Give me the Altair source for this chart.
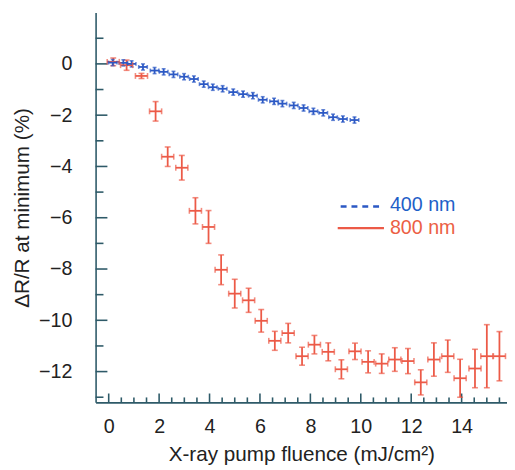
import altair as alt
import pandas as pd

# ---- data ----
blue_x = [0.16, 0.58, 0.91, 1.36, 1.82, 2.18, 2.57, 2.99, 3.38, 3.77, 4.13, 4.52, 4.94,
          5.33, 5.72, 6.11, 6.56, 6.89, 7.34, 7.73, 8.12, 8.51, 8.90, 9.29, 9.75]
blue_y = [0.05, 0.04, 0.0, -0.12, -0.26, -0.31, -0.41, -0.50, -0.59, -0.79, -0.91, -0.97,
          -1.10, -1.18, -1.24, -1.40, -1.46, -1.55, -1.62, -1.72, -1.85, -1.91, -2.08,
          -2.15, -2.19]
blue_xerr = [0.17] * len(blue_x)
blue_yerr = [0.12] * len(blue_x)

red_x = [0.18, 0.71, 1.30, 1.86, 2.34, 2.90, 3.44, 3.96, 4.46, 5.00, 5.55, 6.05, 6.59,
         7.12, 7.67, 8.16, 8.71, 9.23, 9.77, 10.29, 10.83, 11.35, 11.87, 12.38, 12.90,
         13.45, 13.94, 14.53, 15.00, 15.50]
red_y = [0.08, -0.05, -0.47, -1.85, -3.62, -4.05, -5.73, -6.36, -8.03, -8.96, -9.22,
         -10.02, -10.80, -10.50, -11.40, -10.95, -11.23, -11.91, -11.21, -11.62, -11.69,
         -11.53, -11.59, -12.42, -11.53, -11.40, -12.26, -11.88, -11.40, -11.40]
red_xerr = [0.24] * len(red_x)
red_yerr = [0.15, 0.20, 0.10, 0.38, 0.38, 0.48, 0.51, 0.64, 0.58, 0.56, 0.47, 0.44, 0.37,
            0.38, 0.35, 0.36, 0.35, 0.37, 0.32, 0.43, 0.38, 0.46, 0.49, 0.49, 0.65, 0.63,
            0.74, 0.75, 1.23, 0.96]

series_names = ["800 nm", "400 nm"]
series_colors = ["#ec5a47", "#2b58c4"]

x_labels = [0, 2, 4, 6, 8, 10, 12, 14]
x_minor = [v / 2 for v in range(1, 32) if v % 4 != 0]
y_labels = [0, -2, -4, -6, -8, -10, -12]
y_minor = [1, -1, -3, -5, -7, -9, -11, -13]

# ---- tables ----
rows = []
for name, xs, ys, xe, ye, cap in [
    ("800 nm", red_x, red_y, red_xerr, red_yerr, 6),
    ("400 nm", blue_x, blue_y, blue_xerr, blue_yerr, 4),
]:
    for a, b, ex, ey in zip(xs, ys, xe, ye):
        rows.append(dict(series=name, x=a, y=b, xlo=a - ex, xhi=a + ex,
                         ylo=b - ey, yhi=b + ey, cap=cap))
df = pd.DataFrame(rows)

FONT = "Liberation Sans"
AXC = "#2e5a68"
W, H = 418, 396

xscale = alt.Scale(domain=[-0.52, 15.8], nice=False, zero=False)
yscale = alt.Scale(domain=[-13.2, 2.0], nice=False, zero=False)
xaxis = alt.Axis(values=x_labels, ticks=False, grid=False, domainColor=AXC, domainWidth=1.6,
                 labelFont=FONT, labelFontSize=20, labelColor="#222", labelPadding=15,
                 title="X-ray pump fluence (mJ/cm²)", titleFont=FONT, titleFontSize=21,
                 titleFontWeight="normal", titleColor="#222", titlePadding=7)
yaxis = alt.Axis(values=y_labels, ticks=False, grid=False, domainColor=AXC, domainWidth=1.6,
                 labelFont=FONT, labelFontSize=20, labelColor="#222", labelPadding=24,
                 title="ΔR/R at minimum (%)", titleFont=FONT, titleFontSize=21,
                 titleFontWeight="normal", titleColor="#222", titlePadding=6)

color = alt.Color("series:N", scale=alt.Scale(domain=series_names, range=series_colors),
                  legend=None)

base = alt.Chart(df)

vbars = base.mark_rule(strokeWidth=1.8).encode(
    x=alt.X("x:Q", scale=xscale, axis=xaxis),
    y=alt.Y("ylo:Q", scale=yscale, axis=yaxis), y2="yhi:Q", color=color)
hbars = base.mark_rule(strokeWidth=1.8).encode(
    x=alt.X("xlo:Q", scale=xscale, axis=xaxis), x2="xhi:Q",
    y=alt.Y("y:Q", scale=yscale, axis=yaxis), color=color)
caps = []
for yf in ["ylo", "yhi"]:
    caps.append(base.mark_tick(orient="horizontal", thickness=1.6).encode(
        x=alt.X("x:Q", scale=xscale, axis=xaxis),
        y=alt.Y(f"{yf}:Q", scale=yscale, axis=yaxis),
        size=alt.Size("cap:Q", scale=None), color=color))
for xf in ["xlo", "xhi"]:
    caps.append(base.mark_tick(orient="vertical", thickness=1.6).encode(
        x=alt.X(f"{xf}:Q", scale=xscale, axis=xaxis),
        y=alt.Y("y:Q", scale=yscale, axis=yaxis),
        size=alt.Size("cap:Q", scale=None), color=color))

# inward axis ticks
def yticks(vals, length):
    return alt.Chart(pd.DataFrame({"v": vals})).mark_rule(color=AXC, strokeWidth=1.6).encode(
        y=alt.Y("v:Q", scale=yscale, axis=yaxis), x=alt.value(0), x2=alt.value(length))

def xticks(vals, length):
    return alt.Chart(pd.DataFrame({"v": vals})).mark_rule(color=AXC, strokeWidth=1.6).encode(
        x=alt.X("v:Q", scale=xscale, axis=xaxis), y=alt.value(H), y2=alt.value(H - length))

ticks = [yticks(y_labels, 12), yticks(y_minor, 8), xticks(x_labels, 9), xticks(x_minor, 5)]

# legend
one = pd.DataFrame({"a": [0]})
leg = [
    alt.Chart(one).mark_rule(color=series_colors[1], strokeWidth=2.4, strokeDash=[6, 5]).encode(
        x=alt.value(249), x2=alt.value(293), y=alt.value(197)),
    alt.Chart(one).mark_rule(color=series_colors[0], strokeWidth=2.4).encode(
        x=alt.value(246), x2=alt.value(293), y=alt.value(219)),
    alt.Chart(one).mark_text(align="left", baseline="middle", font=FONT, fontSize=20,
                             color="#1f5fc8").encode(
        x=alt.value(299), y=alt.value(196), text=alt.value(series_names[1])),
    alt.Chart(one).mark_text(align="left", baseline="middle", font=FONT, fontSize=20,
                             color="#ec5f45").encode(
        x=alt.value(299), y=alt.value(219), text=alt.value(series_names[0])),
]

chart = alt.layer(*ticks, vbars, hbars, *caps, *leg).properties(
    width=W, height=H,
    autosize=alt.AutoSizeParams(type="none"),
    padding={"left": 89, "top": 1, "right": 0, "bottom": 62},
    background="white",
).configure_view(stroke=None)

chart.save("out.html", embed_options={"renderer": "svg", "actions": False})
